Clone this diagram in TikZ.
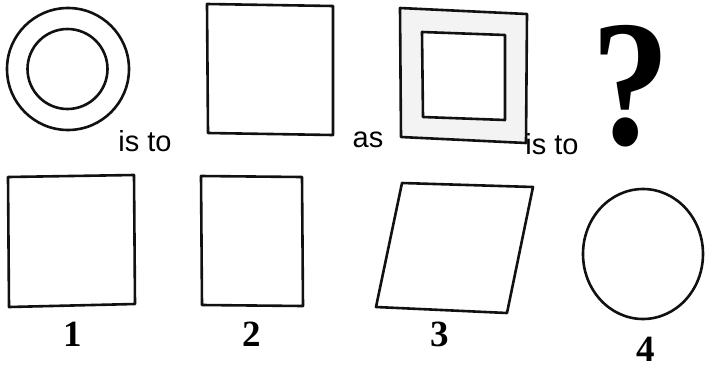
\documentclass[tikz,border=0pt]{standalone}
\usepackage{fontspec}
\setmainfont{Liberation Serif}
\newfontfamily\wordfont{Liberation Sans}
\usepackage{xcolor}
\definecolor{inkblack}{HTML}{111111}
\definecolor{bandgray}{HTML}{F3F3F3}

\tikzset{
    figline/.style={inkblack, line width=2.6pt, line join=round},
    wordlabel/.style={inner sep=0, font=\wordfont\fontsize{29}{29}\selectfont},
    numlabel/.style={inner sep=0, font=\bfseries\fontsize{37}{37}\selectfont}
}

\begin{document}
\begin{tikzpicture}[x=1pt, y=-1pt]

\useasboundingbox (0,0) rectangle (705,368);

% ---------- Top row ----------
% Double circle
\draw[figline] (68,69) circle (61);
\draw[figline] (67.5,69) circle (40);
\node[wordlabel] (isto1) at (145,141) {is to};

% Square
\draw[figline] (207,4) -- (333,6) -- (333,135) -- (208,133) -- cycle;
\node[wordlabel] (as) at (368,140) {as};

% Double square
\fill[bandgray, even odd rule] (400,8) -- (527,14) -- (526,143) -- (401,137) -- cycle
    (422,32) -- (505,35) -- (505,120) -- (423,117) -- cycle;
\draw[figline] (400,8) -- (527,14) -- (526,143) -- (401,137) -- cycle;
\draw[figline] (422,32) -- (505,35) -- (505,120) -- (423,117) -- cycle;
\node[wordlabel] (isto2) at (552,144) {is to};

% Question mark
\node[inner sep=0, font=\bfseries\fontsize{150}{150}\selectfont] (query) at (631,86) {\scalebox{1.05}[1.2]{?}};

% ---------- Bottom row ----------
% Option 1
\draw[figline] (8,177) -- (134,175) -- (135,304) -- (9,307) -- cycle;
\node[numlabel] (one) at (73,334) {1};

% Option 2
\draw[figline] (201,176) -- (302,177) -- (303,306) -- (202,305) -- cycle;
\node[numlabel] (two) at (252,334) {2};

% Option 3
\draw[figline] (402,183) -- (533,187) -- (507,313) -- (376,307) -- cycle;
\node[numlabel] (three) at (440,334) {3};

% Option 4
\draw[figline] (643,254) ellipse (60 and 65);
\node[numlabel] (four) at (646,349) {4};

\end{tikzpicture}
\end{document}
